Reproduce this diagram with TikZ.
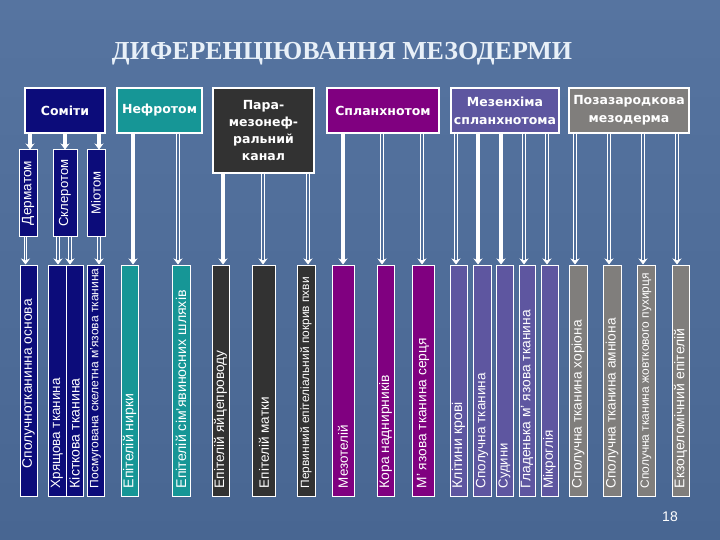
\documentclass[tikz,border=0pt]{standalone}
\usepackage{fontspec}
\usetikzlibrary{arrows.meta,calc}
\newfontfamily\boxfont{DejaVu Sans}
\newfontfamily\barfont{Liberation Sans}
\newfontfamily\titlefont{Liberation Serif}
\definecolor{bgtop}{RGB}{86,116,160}
\definecolor{bgbot}{RGB}{72,102,146}
\definecolor{bgmid}{RGB}{80,110,154}
\definecolor{cnavy}{RGB}{12,12,122}
\definecolor{cteal}{RGB}{22,150,150}
\definecolor{cdark}{RGB}{50,50,50}
\definecolor{cpurp}{RGB}{128,0,128}
\definecolor{cslate}{RGB}{94,86,160}
\definecolor{cgray}{RGB}{128,126,124}
\definecolor{ctitle}{RGB}{232,240,248}
\newcommand\fitT[2]{\resizebox{#1pt}{!}{\barfont\fontsize{14}{14}\selectfont #2}}
\newcommand\myconn[4]{\draw[#1] ($(#3.north |- #2.south)+(#4,0)$) -- ($(#3.north)+(#4,0)$);}
\begin{document}
\begin{tikzpicture}[x=1pt,y=-1pt,
  topbox/.style={draw=white, line width=1.2pt, inner sep=0pt, text=white,
    font=\boxfont\bfseries\fontsize{12.5}{16.7}\selectfont, align=center},
  bar/.style={draw=white, line width=1pt, inner sep=0pt, minimum height=231pt},
  midbar/.style={draw=white, line width=1pt, inner sep=0pt, minimum height=86pt, fill=cnavy, text=white},
  barlab/.style={rotate=90, anchor=west, inner sep=0pt, text=white},
  arrS/.style={draw=white, line width=3.2pt, -{Stealth[length=6pt,width=9pt]}},
  arrD/.style={draw=white, line width=0.9pt, double=bgmid, double distance=1.5pt, -{Stealth[length=6pt,width=9pt]}},
]
\useasboundingbox (0,0) rectangle (720,540);
\fill[top color=bgtop, bottom color=bgbot] (0,0) rectangle (720,540);

% title
\node[anchor=base, inner sep=0pt, text=ctitle] (title) at (342,59.5)
  {\resizebox{460pt}{!}{\titlefont\bfseries ДИФЕРЕНЦІЮВАННЯ МЕЗОДЕРМИ}};

% top boxes
\node[topbox, fill=cnavy, minimum width=80pt, minimum height=45pt] (s) at (65,110.5) {Соміти};
\node[topbox, fill=cteal, minimum width=85pt, minimum height=45pt] (n) at (159.5,110.5) {Нефротом};
\node[topbox, fill=cdark, minimum width=101pt, minimum height=85pt] (p) at (263.5,130.5) {Пара-\\мезонеф-\\ральний\\канал};
\node[topbox, fill=cpurp, minimum width=112pt, minimum height=45pt] (sp) at (383,110.5) {Спланхнотом};
\node[topbox, fill=cslate, minimum width=108pt, minimum height=45pt, font=\boxfont\bfseries\fontsize{12.5}{18}\selectfont] (m) at (505,110.5) {Мезенхіма\\спланхнотома};
\node[topbox, fill=cgray, minimum width=120pt, minimum height=45pt, font=\boxfont\bfseries\fontsize{12.5}{18}\selectfont] (z) at (629,110.5) {Позазародкова\\мезодерма};

% second level
\node[midbar, minimum width=18pt] (d) at (28,193) {\rotatebox{90}{\fitT{64}{Дерматом}}};
\node[midbar, minimum width=24pt] (sk) at (65,193) {\rotatebox{90}{\fitT{67}{Склеротом}}};
\node[midbar, minimum width=18pt] (mi) at (96,193) {\rotatebox{90}{\fitT{43}{Міотом}}};

% bars
\node[bar, fill=cnavy, minimum width=17pt] (b1) at (28.5,380.5) {};
\node[bar, fill=cnavy, minimum width=18pt] (b2) at (57,380.5) {};
\node[bar, fill=cnavy, minimum width=17pt] (b3) at (74.5,380.5) {};
\node[bar, fill=cnavy, minimum width=17pt] (b4) at (95.5,380.5) {};
\node[bar, fill=cteal, minimum width=17pt] (b5) at (129.5,380.5) {};
\node[bar, fill=cteal, minimum width=18pt] (b6) at (181,380.5) {};
\node[bar, fill=cdark, minimum width=17pt] (b7) at (220.5,380.5) {};
\node[bar, fill=cdark, minimum width=23pt] (b8) at (264,380.5) {};
\node[bar, fill=cdark, minimum width=18pt] (b9) at (306,380.5) {};
\node[bar, fill=cpurp, minimum width=22pt] (b10) at (343,380.5) {};
\node[bar, fill=cpurp, minimum width=17pt] (b11) at (385.5,380.5) {};
\node[bar, fill=cpurp, minimum width=22pt] (b12) at (423,380.5) {};
\node[bar, fill=cslate, minimum width=17pt] (b13) at (458.5,380.5) {};
\node[bar, fill=cslate, minimum width=18pt] (b14) at (482,380.5) {};
\node[bar, fill=cslate, minimum width=17pt] (b15) at (504.5,380.5) {};
\node[bar, fill=cslate, minimum width=16pt] (b16) at (527,380.5) {};
\node[bar, fill=cslate, minimum width=17pt] (b17) at (549.5,380.5) {};
\node[bar, fill=cgray, minimum width=18pt] (b18) at (578,380.5) {};
\node[bar, fill=cgray, minimum width=18pt] (b19) at (612,380.5) {};
\node[bar, fill=cgray, minimum width=18pt] (b20) at (646,380.5) {};
\node[bar, fill=cgray, minimum width=17pt] (b21) at (680.5,380.5) {};

% bar labels
\node[barlab] (l1) at ([yshift=28pt]b1.south) {\fitT{169}{Сполучнотканинна основа}};
\node[barlab] (l2) at ([yshift=8pt]b2.south) {\fitT{110}{Хрящова тканина}};
\node[barlab] (l3) at ([yshift=8pt]b3.south) {\fitT{110}{Кісткова тканина}};
\node[barlab] (l4) at ([yshift=8pt]b4.south) {\fitT{220}{Посмугована скелетна м’язова тканина}};
\node[barlab] (l5) at ([yshift=8pt]b5.south) {\fitT{95}{Епітелій нирки}};
\node[barlab] (l6) at ([yshift=8pt]b6.south) {\fitT{198}{Епітелій сім’явиносних шляхів}};
\node[barlab] (l7) at ([yshift=8pt]b7.south) {\fitT{138}{Епітелій яйцепроводу}};
\node[barlab] (l8) at ([yshift=8pt]b8.south) {\fitT{91}{Епітелій матки}};
\node[barlab] (l9) at ([yshift=8pt]b9.south) {\fitT{211}{Первинний епітеліальний покрив пхви}};
\node[barlab] (l10) at ([yshift=8pt]b10.south) {\fitT{63}{Мезотелій}};
\node[barlab] (l11) at ([yshift=8pt]b11.south) {\fitT{113}{Кора наднирників}};
\node[barlab] (l12) at ([yshift=8pt]b12.south) {\fitT{150}{М’ язова тканина серця}};
\node[barlab] (l13) at ([yshift=8pt]b13.south) {\fitT{86}{Клітини крові}};
\node[barlab] (l14) at ([yshift=8pt]b14.south) {\fitT{115}{Сполучна тканина}};
\node[barlab] (l15) at ([yshift=8pt]b15.south) {\fitT{45}{Судини}};
\node[barlab] (l16) at ([yshift=8pt]b16.south) {\fitT{178}{Гладенька м’ язова тканина}};
\node[barlab] (l17) at ([yshift=8pt]b17.south) {\fitT{58}{Мікроглія}};
\node[barlab] (l18) at ([yshift=8pt]b18.south) {\fitT{168}{Сполучна тканина хоріона}};
\node[barlab] (l19) at ([yshift=8pt]b19.south) {\fitT{170}{Сполучна тканина амніона}};
\node[barlab] (l20) at ([yshift=8pt]b20.south) {\fitT{215}{Сполучна тканина жовткового пухирця}};
\node[barlab] (l21) at ([yshift=8pt]b21.south) {\fitT{160}{Екзоцеломічний епітелій}};

% connectors
\myconn{arrS}{s}{d}{2}
\myconn{arrS}{s}{sk}{0}
\myconn{arrS}{s}{mi}{3}
\myconn{arrD}{d}{b1}{-3}
\myconn{arrD}{sk}{b2}{1}
\myconn{arrD}{sk}{b3}{-4.5}
\myconn{arrD}{mi}{b4}{3.5}
\myconn{arrS}{n}{b5}{3.5}
\myconn{arrD}{n}{b6}{-3}
\myconn{arrS}{p}{b7}{2.5}
\myconn{arrD}{p}{b8}{-1}
\myconn{arrD}{p}{b9}{2}
\myconn{arrS}{sp}{b10}{0}
\myconn{arrD}{sp}{b11}{-3.5}
\myconn{arrD}{sp}{b12}{-1}
\myconn{arrD}{m}{b13}{-2.5}
\myconn{arrS}{m}{b14}{-4}
\myconn{arrS}{m}{b15}{-3.5}
\myconn{arrD}{m}{b16}{-3}
\myconn{arrD}{m}{b17}{-2.5}
\myconn{arrD}{z}{b18}{-3}
\myconn{arrD}{z}{b19}{-3}
\myconn{arrD}{z}{b20}{-3}
\myconn{arrD}{z}{b21}{-3.5}

% page number
\node[anchor=base, inner sep=0pt, text=white, font=\barfont\fontsize{14}{14}\selectfont] (pg) at (670,521.7) {18};
\end{tikzpicture}
\end{document}
